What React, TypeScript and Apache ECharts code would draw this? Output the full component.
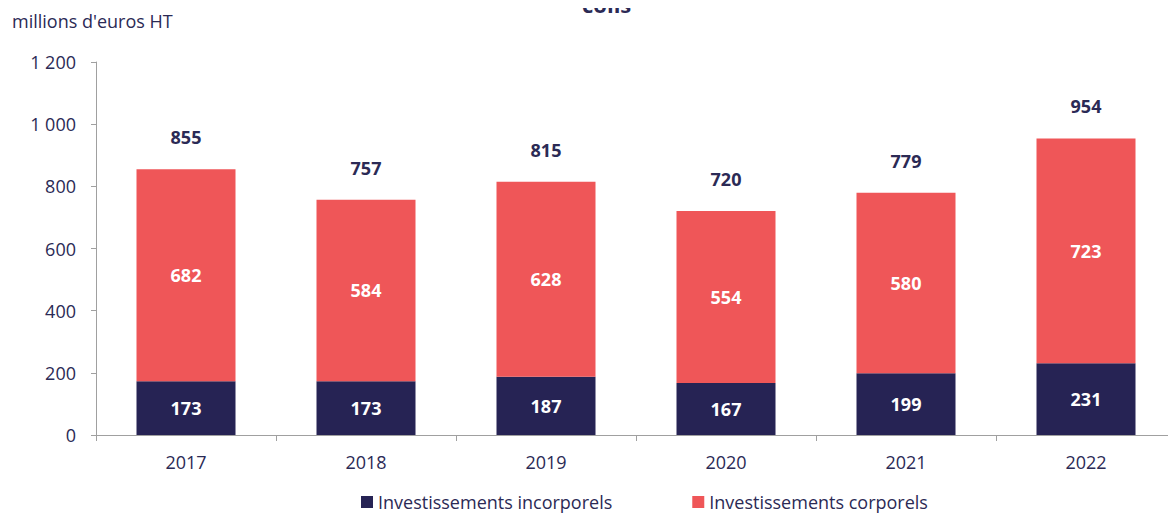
import React, { useEffect, useRef } from "react";
import * as echarts from "echarts";

const years = ["2017", "2018", "2019", "2020", "2021", "2022"];
const incorporels = [173, 173, 187, 167, 199, 231];
const corporels = [682, 584, 628, 554, 580, 723];
const totals = [855, 757, 815, 720, 779, 954];
const yTicks = [0, 200, 400, 600, 800, 1000, 1200];

const NAVY = "#262354";
const RED = "#EF5658";
const TEXT = "#2B2A55";
const AXIS = "#A0A0A0";
const FONT = "'Open Sans', sans-serif";

export default function App() {
  const ref = useRef<HTMLDivElement>(null);
  useEffect(() => {
    const chart = echarts.init(ref.current!, null, { renderer: "svg" });
    chart.setOption({
      animation: false,
      textStyle: { fontFamily: FONT, color: TEXT },
      graphic: [
        {
          type: "text",
          left: 12,
          top: 12,
          style: { text: "millions d'euros HT", fill: TEXT, font: `18px ${FONT}` },
        },
        {
          type: "text",
          x: 582,
          y: 15,
          style: { text: "colis", fill: TEXT, font: `bold 22px ${FONT}`, verticalAlign: "bottom" },
        },
      ],
      legend: {
        bottom: 0,
        left: 356,
        itemGap: 80,
        itemWidth: 12,
        itemHeight: 12,
        icon: "rect",
        data: ["Investissements incorporels", "Investissements corporels"],
        textStyle: { fontSize: 18, color: TEXT, fontFamily: FONT },
      },
      grid: { left: 96, width: 1087, top: 62, bottom: 81, containLabel: false },
      xAxis: {
        type: "category",
        data: years,
        axisLine: { lineStyle: { color: AXIS } },
        axisTick: { show: true, alignWithLabel: false, length: 6, lineStyle: { color: AXIS } },
        axisLabel: { color: TEXT, fontSize: 18, margin: 18, fontFamily: FONT },
      },
      yAxis: {
        type: "value",
        min: 0,
        max: 1200,
        interval: 200,
        splitLine: { show: false },
        axisLine: { show: true, lineStyle: { color: AXIS } },
        axisTick: { show: true, length: 5, lineStyle: { color: AXIS } },
        axisLabel: {
          color: TEXT,
          fontSize: 18,
          margin: 20,
          fontFamily: FONT,
          formatter: (v: number) =>
            yTicks.includes(v) ? String(v).replace(/\B(?=(\d{3})+(?!\d))/g, " ") : "",
        },
      },
      series: [
        {
          name: "Investissements incorporels",
          type: "bar",
          stack: "t",
          barWidth: "55%",
          data: incorporels,
          itemStyle: { color: NAVY },
          label: { show: true, position: "inside", color: "#fff", fontWeight: "bold", fontSize: 18, fontFamily: FONT },
        },
        {
          name: "Investissements corporels",
          type: "bar",
          stack: "t",
          data: corporels,
          itemStyle: { color: RED },
          label: { show: true, position: "inside", color: "#fff", fontWeight: "bold", fontSize: 18, fontFamily: FONT },
        },
        {
          name: "Total",
          type: "scatter",
          data: totals,
          symbol: "circle",
          symbolSize: 2,
          itemStyle: { color: "rgba(0,0,0,0)", opacity: 1 },
          label: { show: true, position: "top", distance: 22, color: TEXT, fontWeight: "bold", fontSize: 18, fontFamily: FONT },
          tooltip: { show: false },
        },
      ],
    });
    return () => chart.dispose();
  }, []);
  return <div ref={ref} style={{ width: 1176, height: 516, margin: "-8px 0 0 -8px" }} />;
}
